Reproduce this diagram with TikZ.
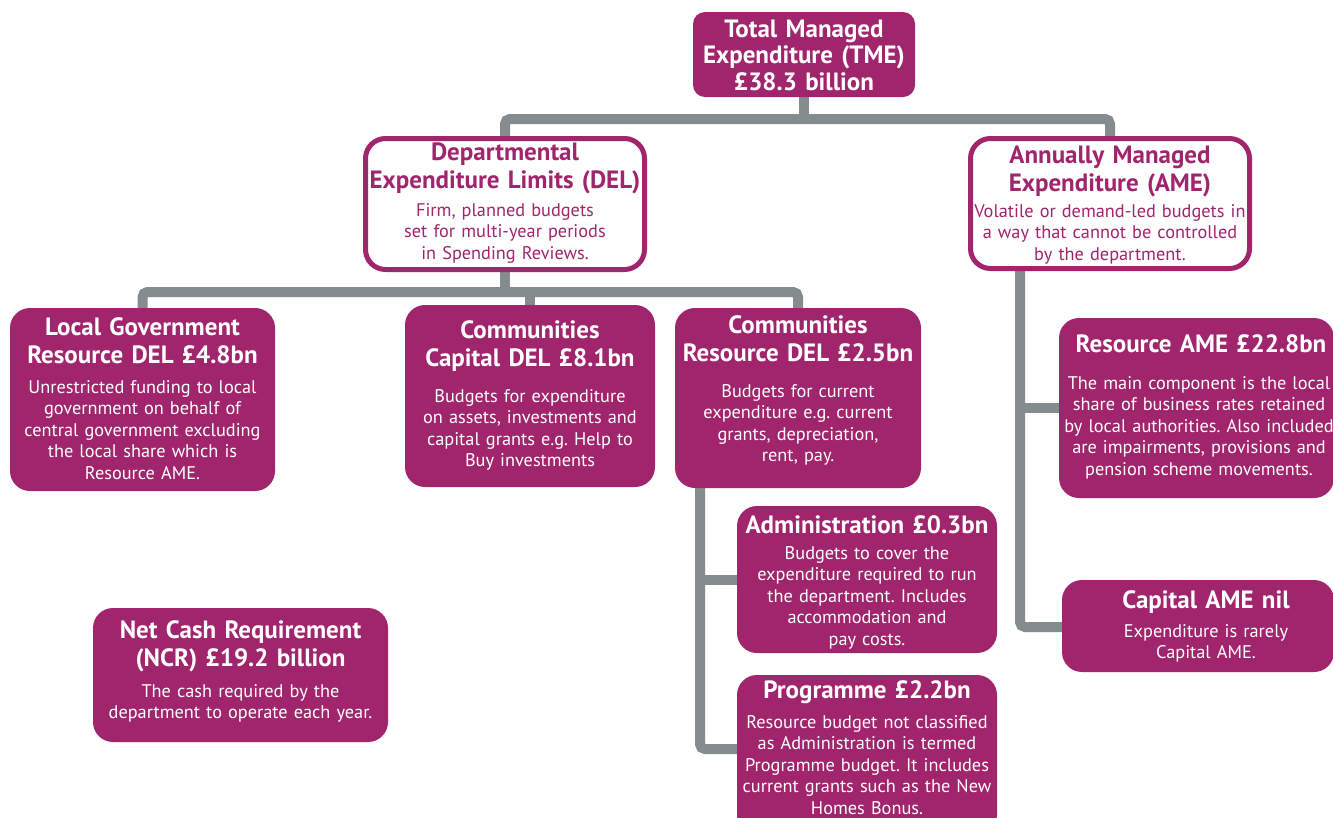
\documentclass[tikz,border=0pt]{standalone}
\usepackage{fontspec}
\setmainfont{PT Sans}
\usetikzlibrary{backgrounds}
\definecolor{mag}{RGB}{161,37,108}
\definecolor{gry}{RGB}{133,140,142}
\newcommand\hdf{\frenchspacing\fontsize{25}{28}\selectfont\bfseries}
\newcommand\bdf{\frenchspacing\fontsize{18.3}{21.5}\selectfont}
\begin{document}
\begin{tikzpicture}[x=1pt,y=-1pt,
  fbox/.style={fill=mag, rounded corners=20pt, inner sep=0pt},
  obox/.style={draw=mag, line width=5pt, fill=white, rounded corners=20pt, inner sep=0pt},
  hw/.style={text=white, font=\hdf, align=center, anchor=base, inner sep=0pt, text width=340pt},
  bw/.style={text=white, font=\bdf, align=center, anchor=base, inner sep=0pt, text width=340pt},
  hm/.style={hw, text=mag},
  bm/.style={bw, text=mag},
  conn/.style={draw=gry, line width=10pt, rounded corners=5pt}]
\useasboundingbox (0,0) rectangle (1333,817);
\clip (0,0) rectangle (1333,817);

% boxes
\node[fbox, rounded corners=12pt, minimum width=222pt, minimum height=85pt] (tme) at (804,54.5) {};
\node[obox, minimum width=279pt, minimum height=131pt] (del) at (505,204) {};
\node[obox, minimum width=279pt, minimum height=130pt] (ame) at (1110,203.5) {};
\node[fbox, minimum width=265pt, minimum height=183pt] (lg) at (142.5,399.5) {};
\node[fbox, minimum width=250pt, minimum height=182pt] (capdel) at (530,396) {};
\node[fbox, minimum width=246pt, minimum height=180pt] (crdel) at (798,398) {};
\node[fbox, minimum width=260pt, minimum height=147pt] (admin) at (867,579.5) {};
\node[fbox, minimum width=260pt, minimum height=160pt] (prog) at (867,755) {};
\node[fbox, minimum width=275pt, minimum height=180pt] (resame) at (1196.5,408) {};
\node[fbox, minimum width=272pt, minimum height=92pt] (capame) at (1198,626) {};
\node[fbox, minimum width=295pt, minimum height=134pt] (ncr) at (240.5,675) {};

% texts
\node[hw, font=\frenchspacing\fontsize{25}{26.5}\selectfont\bfseries] (tmet) at (804,37) {Total Managed\\Expenditure (TME)\\£38.3 billion};

\node[hm] (delh) at (505,160) {Departmental\\Expenditure Limits (DEL)};
\node[bm] (delb) at (505,216) {Firm, planned budgets\\set for multi-year periods\\in Spending Reviews.};

\node[hm] (ameh) at (1110,163) {Annually Managed\\Expenditure (AME)};
\node[bm] (ameb) at (1110,217) {Volatile or demand-led budgets in\\a way that cannot be controlled\\by the department.};

\node[hw] (lgh) at (142.5,335) {Local Government\\Resource DEL £4.8bn};
\node[bw] (lgb) at (142.5,393) {Unrestricted funding to local\\government on behalf of\\central government excluding\\the local share which is\\Resource AME.};

\node[hw] (capdelh) at (530,338) {Communities\\Capital DEL £8.1bn};
\node[bw] (capdelb) at (530,402) {Budgets for expenditure\\on assets, investments and\\capital grants e.g. Help to\\Buy investments};

\node[hw] (crdelh) at (798,333) {Communities\\Resource DEL £2.5bn};
\node[bw] (crdelb) at (798,397) {Budgets for current\\expenditure e.g. current\\grants, depreciation,\\rent, pay.};

\node[hw] (adminh) at (867,533) {Administration £0.3bn};
\node[bw] (adminb) at (867,559) {Budgets to cover the\\expenditure required to run\\the department. Includes\\accommodation and\\pay costs.};

\node[hw] (progh) at (867,698) {Programme £2.2bn};
\node[bw] (progb) at (867,728) {Resource budget not classified\\as Administration is termed\\Programme budget. It includes\\current grants such as the New\\Homes Bonus.};

\node[hw] (resameh) at (1201,352) {Resource AME £22.8bn};
\node[bw] (resameb) at (1199,389) {The main component is the local\\share of business rates retained\\by local authorities. Also included\\are impairments, provisions and\\pension scheme movements.};

\node[hw] (capameh) at (1206,608) {Capital AME nil};
\node[bw] (capameb) at (1206,637) {Expenditure is rarely\\Capital AME.};

\node[hw] (ncrh) at (240.5,638) {Net Cash Requirement\\(NCR) £19.2 billion};
\node[bw] (ncrb) at (240.5,697) {The cash required by the\\department to operate each year.};

% connectors
\coordinate (busa) at (804,119);
\coordinate (busb) at (507,292);
\coordinate (crv) at (700,749);
\coordinate (amev) at (1020,627);
\begin{scope}[on background layer]
\fill[white] (0,0) rectangle (1333,817);
\draw[conn] (tme.south) -- (busa);
\draw[conn] (del.north) -- (del.north |- busa) -- (ame.north |- busa) -- (ame.north);
\draw[conn] (del.south) -- (del.south |- busb);
\draw[conn] (lg.north) -- (lg.north |- busb) -- (crdel.north |- busb) -- (crdel.north);
\draw[conn, rounded corners=0pt] (capdel.north |- busb) -- (capdel.north);
\draw[conn] (crdel.south -| crv) -- (crv) -- (crv -| prog.west);
\draw[conn, rounded corners=0pt] (admin.west -| crv) -- (admin.west);
\draw[conn] (ame.south -| amev) -- (amev) -- (amev -| capame.west);
\draw[conn, rounded corners=0pt] (resame.west -| amev) -- (resame.west);
\end{scope}
\end{tikzpicture}
\end{document}
